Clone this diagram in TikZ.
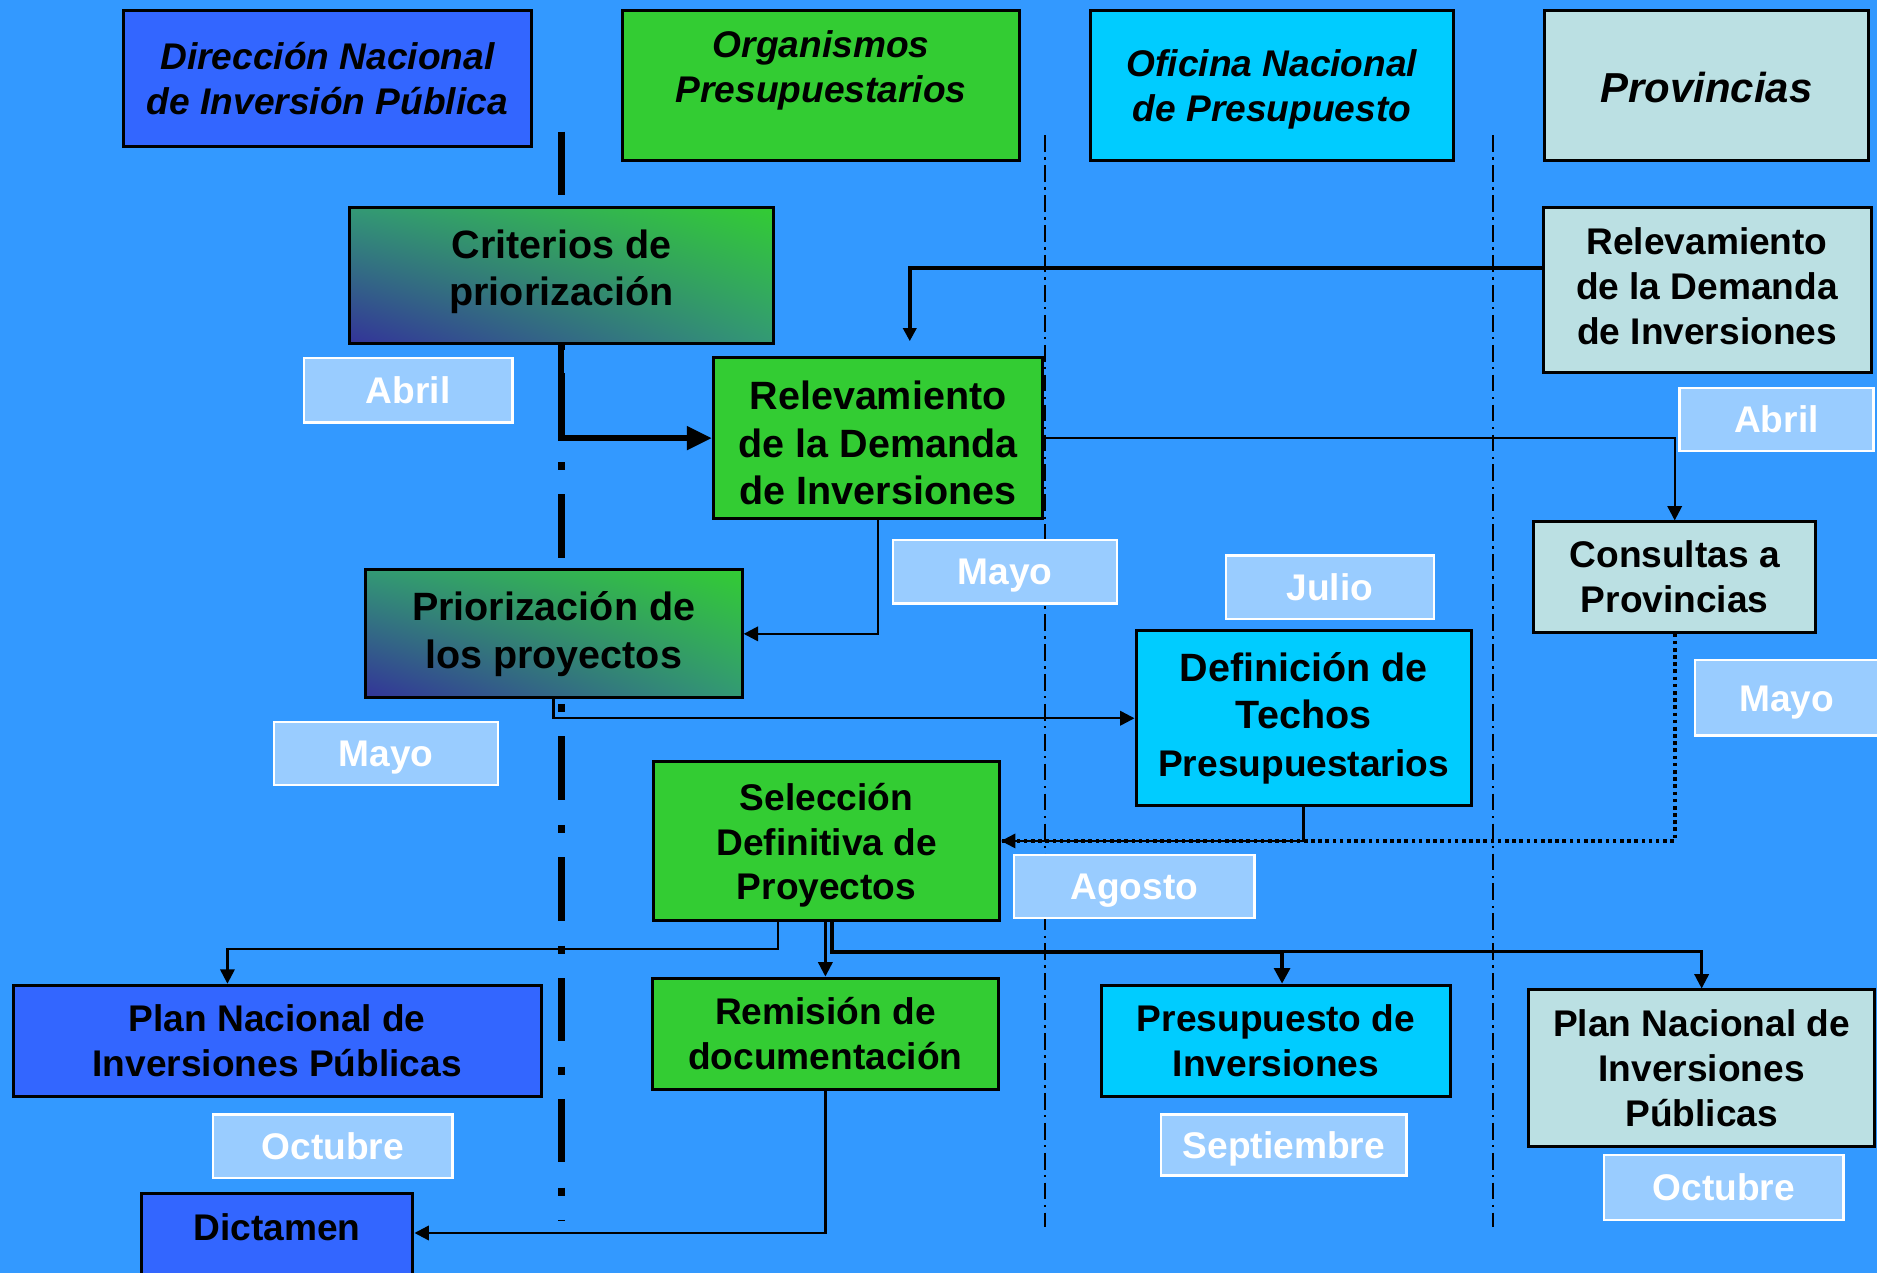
\documentclass[tikz,border=0pt]{standalone}
\usepackage{fontspec}
\setmainfont{Liberation Sans}
\usetikzlibrary{arrows.meta,shadings}
\definecolor{bg}{HTML}{3399FF}
\definecolor{bluebox}{HTML}{3366FF}
\definecolor{greenbox}{HTML}{33CC33}
\definecolor{cyanbox}{HTML}{00CCFF}
\definecolor{provbox}{HTML}{BBE0E3}
\definecolor{lblfill}{HTML}{99CCFF}
\definecolor{gradA}{HTML}{333399}
\definecolor{gradB}{HTML}{33CC33}
\definecolor{gradM}{HTML}{339975}
\newcommand\myfs[2]{\fontsize{#1}{#2}\selectfont}
\newcommand\upstrut[1]{\rule{0pt}{#1}}
\newcommand\downstrut[1]{\rule[-#1]{0pt}{#1}}
\begin{document}
\begin{tikzpicture}[x=1pt,y=-1pt,
  box/.style={draw=black, line width=2.5pt, inner sep=0pt, align=center, font=\bfseries\myfs{31}{37.5}},
  hdr/.style={box, font=\bfseries\itshape\myfs{31}{37.5}},
  hdrtext/.style={inner sep=0pt, align=center, font=\bfseries\itshape\myfs{31}{37.5}},
  boxtext/.style={inner sep=0pt, align=center, font=\bfseries\myfs{31}{37.5}},
  grad/.style={lower left=gradA, upper right=gradB, upper left=gradM, lower right=gradM},
  lbl/.style={draw=white, line width=2pt, fill=lblfill, text=white, inner sep=0pt, text height=22pt, text depth=0pt, font=\bfseries\myfs{31}{37}},
  conn/.style={line width=2pt, -{Triangle[length=12pt,width=12pt]}},
  medconn/.style={line width=3.2pt, -{Triangle[length=11pt,width=11pt]}},
  thickconn/.style={line width=3.5pt, -{Triangle[length=13pt,width=13pt]}},
  bigconn/.style={line width=5pt, -{Triangle[length=21pt,width=19pt]}},
  dotconn/.style={line width=3pt, dash pattern=on 3pt off 3pt},
  septhick/.style={line width=6pt, dash pattern=on 53pt off 21pt on 7pt off 20pt},
  septhin/.style={line width=1.6pt, dash pattern=on 14pt off 4.5pt on 2pt off 4.5pt}
]
\useasboundingbox (0,0) rectangle (1568,1063);
\clip (0,0) rectangle (1568,1063);
\fill[bg] (0,0) rectangle (1568,1063);

% column separators
\draw[septhick] (469,110) -- (469,1020);
\draw[septhin] (873,113) -- (873,1025);
\draw[septhin] (1247,113) -- (1247,1025);

% headers
\node[hdr, fill=bluebox, minimum width=341pt, minimum height=113pt] (dnip) at (273.5,65.5) {Dirección Nacional\\de Inversión Pública};
\node[hdr, fill=greenbox, minimum width=332pt, minimum height=125pt] (org) at (686,71.5) {};
\node[hdrtext] (orgt) at (686,58.5) {Organismos\\Presupuestarios};
\node[hdr, fill=cyanbox, minimum width=303pt, minimum height=125pt] (onp) at (1062.5,71.5) {\upstrut{29pt}Oficina Nacional\\de Presupuesto};
\node[hdr, fill=provbox, minimum width=271pt, minimum height=125pt, font=\bfseries\itshape\myfs{35}{42}] (prov) at (1425.5,71.5) {\upstrut{29pt}Provincias};

% process boxes
\node[box, grad, minimum width=354pt, minimum height=114pt, font=\bfseries\myfs{33}{39}] (crit) at (469,230) {Criterios de\\priorización\downstrut{13pt}};
\node[box, fill=provbox, minimum width=274pt, minimum height=138pt] (relR) at (1426,242) {Relevamiento\\de la Demanda\\de Inversiones\downstrut{6pt}};
\node[box, fill=greenbox, minimum width=275pt, minimum height=134pt, font=\bfseries\myfs{33}{40}] (relM) at (733.5,366) {\upstrut{32pt}Relevamiento\\de la Demanda\\de Inversiones};
\node[box, fill=provbox, minimum width=236pt, minimum height=92pt] (cons) at (1399,482) {Consultas a\\Provincias};
\node[box, grad, minimum width=315pt, minimum height=107pt, font=\bfseries\myfs{33}{40}] (prio) at (462.5,529.5) {Priorización de\\los proyectos};
\node[box, fill=cyanbox, minimum width=280pt, minimum height=146pt, font=\bfseries\myfs{33}{40}] (def) at (1089,600) {Definición de\\Techos\\{\myfs{31}{38}Presupuestarios}};
\node[box, fill=greenbox, minimum width=289pt, minimum height=133pt, font=\bfseries\myfs{31}{37}] (sel) at (690.5,702.5) {\upstrut{30pt}Selección\\Definitiva de\\Proyectos};
\node[box, fill=bluebox, minimum width=441pt, minimum height=93pt] (planL) at (231.5,869.5) {Plan Nacional de\\Inversiones Públicas};
\node[box, fill=greenbox, minimum width=289pt, minimum height=93pt] (rem) at (689.5,863.5) {Remisión de\\documentación};
\node[box, fill=cyanbox, minimum width=292pt, minimum height=93pt] (pres) at (1066,869.5) {Presupuesto de\\Inversiones};
\node[box, fill=provbox, minimum width=289pt, minimum height=131pt] (planR) at (1421.5,892.5) {Plan Nacional de\\Inversiones\\Públicas};
\node[box, fill=bluebox, minimum width=227pt, minimum height=140pt, anchor=north] (dictbox) at (231.5,996) {};
\node[boxtext] (dict) at (231.5,1025) {Dictamen};

% connectors
\coordinate (relTip) at (760,285);
\coordinate (yRel) at (0,224);
\coordinate (xL) at (650,793);
\coordinate (xPL) at (190,0);
\coordinate (jR) at (695,795);
\coordinate (xP) at (1071,0);
\coordinate (yD) at (0,1030);
\draw[bigconn] (crit.south) |- (relM.west);
\draw[medconn] (relR.west |- yRel) -| (relTip);
\draw[conn] (relM.east) -| (cons.north);
\draw[conn] (relM.south) |- (prio.east);
\draw[conn] (prio.south) |- (def.west);
\draw[dotconn] (cons.south) |- (sel.east);
\draw[conn] (def.south) |- (sel.east);
\draw[conn] (sel.south -| xL) -- (xL) -| (planL.north -| xPL);
\draw[conn] (rem.north |- sel.south) -- (rem.north);
\draw[conn] (sel.south -| jR) -- (jR) -| (planR.north);
\draw[thickconn] (sel.south -| jR) -- (jR) -| (pres.north -| xP);
\draw[conn] (rem.south) |- (dictbox.east |- yD);

% month labels
\node[lbl, minimum width=174pt, minimum height=54pt] (abril1) at (341,326) {Abril};
\node[lbl, minimum width=162pt, minimum height=53pt] (abril2) at (1484,350.5) {Abril};
\node[lbl, minimum width=187pt, minimum height=53pt] (mayo1) at (839.5,477.5) {Mayo};
\node[lbl, minimum width=174pt, minimum height=53pt] (julio) at (1111,490.5) {Julio};
\node[lbl, minimum width=153pt, minimum height=63pt] (mayo3) at (1492.5,583) {Mayo};
\node[lbl, minimum width=187pt, minimum height=53pt] (mayo2) at (322.5,629.5) {Mayo};
\node[lbl, minimum width=201pt, minimum height=53pt] (agosto) at (947.5,740.5) {Agosto};
\node[lbl, minimum width=200pt, minimum height=53pt] (oct1) at (278,957.5) {Octubre};
\node[lbl, minimum width=205pt, minimum height=51pt] (sept) at (1072.5,956.5) {Septiembre};
\node[lbl, minimum width=200pt, minimum height=54pt] (oct2) at (1440,992) {Octubre};
\end{tikzpicture}
\end{document}
